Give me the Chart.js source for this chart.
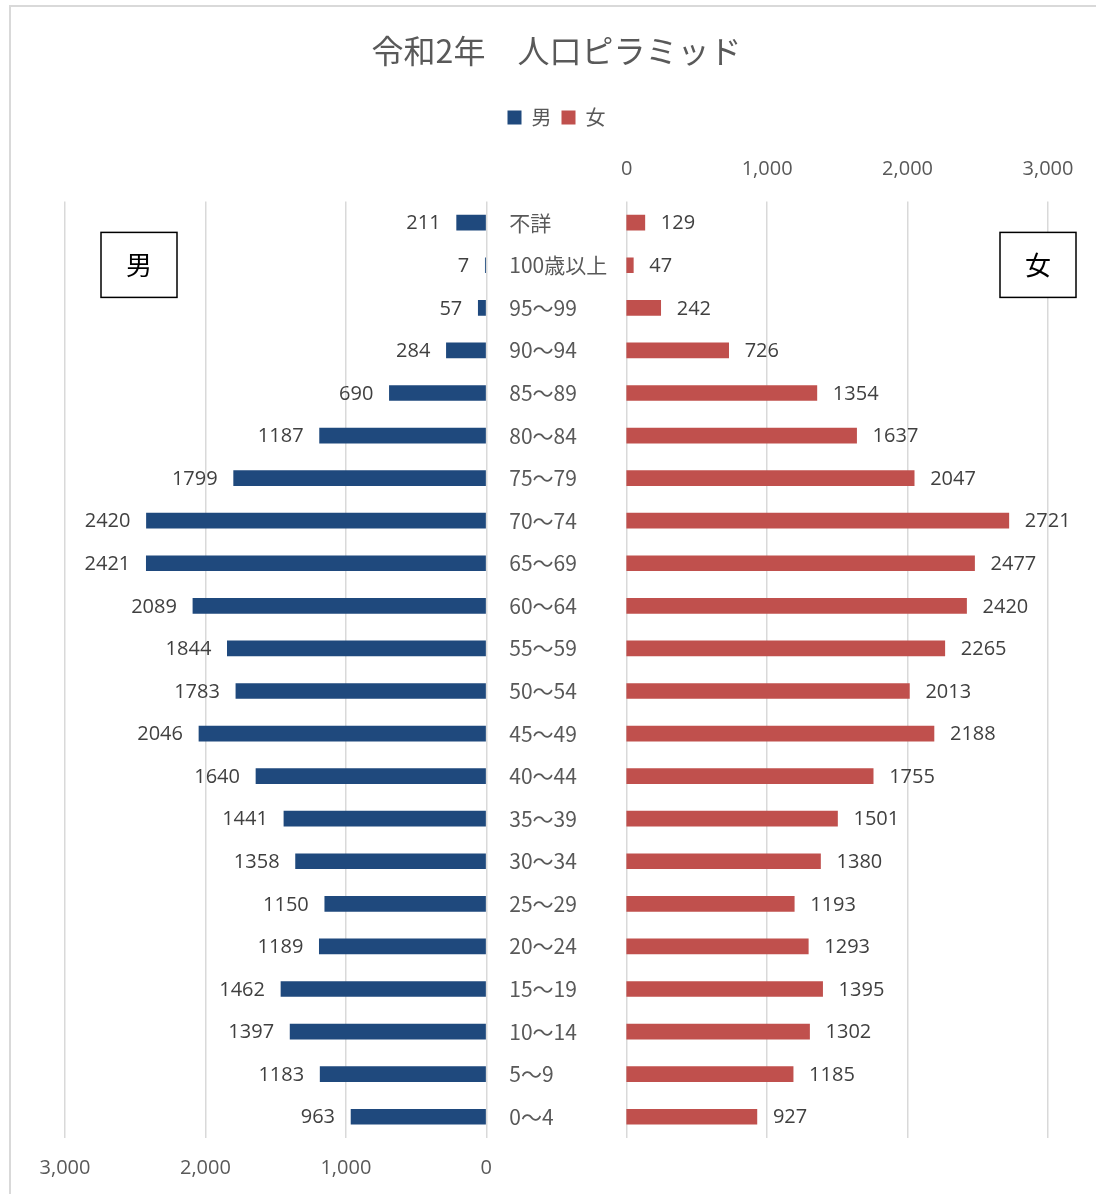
<!DOCTYPE html>
<html>
<head>
<meta charset="utf-8">
<script src="https://cdn.jsdelivr.net/npm/chart.js@4"></script>
<style>
  body { margin: 0; background: #fff; }
  #wrap { width: 1096px; height: 1194px; position: relative; }
</style>
</head>
<body>
<div id="wrap"><canvas id="chartCanvas"></canvas></div>
<script>
// 年齢区分（上から順）
const ageGroups = ["不詳", "100歳以上", "95～99", "90～94", "85～89", "80～84", "75～79", "70～74",
  "65～69", "60～64", "55～59", "50～54", "45～49", "40～44", "35～39", "30～34",
  "25～29", "20～24", "15～19", "10～14", "5～9", "0～4"];
const male = [211, 7, 57, 284, 690, 1187, 1799, 2420, 2421, 2089, 1844, 1783, 2046, 1640,
  1441, 1358, 1150, 1189, 1462, 1397, 1183, 963];
const female = [129, 47, 242, 726, 1354, 1637, 2047, 2721, 2477, 2420, 2265, 2013, 2188, 1755,
  1501, 1380, 1193, 1293, 1395, 1302, 1185, 927];
const axisTicks = [0, 1000, 2000, 3000];

const jpFont = '"Noto Sans CJK JP", "Noto Sans", sans-serif';
const numFont = '"Open Sans", "Noto Sans", sans-serif';

// 枠・中央ラベル・数値ラベル・男女の箱
const pyramidDecor = {
  id: "pyramidDecor",
  beforeDraw(chart) {
    const c = chart.ctx;
    c.save();
    c.strokeStyle = "#d9d9d9";
    c.lineWidth = 2;
    c.strokeRect(10, 6, 1200, 1300);
    c.restore();
  },
  afterDatasetsDraw(chart) {
    const c = chart.ctx;
    const area = chart.chartArea;
    const xMale = chart.scales.x;
    const yScale = chart.scales.y;
    c.save();
    // 年齢区分ラベル
    c.font = "21px " + jpFont;
    c.fillStyle = "#595959";
    c.textAlign = "left";
    c.textBaseline = "middle";
    const labelX = xMale.getPixelForValue(0) + 23;
    ageGroups.forEach((g, i) => {
      c.fillText(g, labelX, yScale.getPixelForValue(i));
    });
    // 数値ラベル
    c.font = "20px " + numFont;
    c.fillStyle = "#404040";
    chart.getDatasetMeta(0).data.forEach((bar, i) => {
      c.textAlign = "right";
      c.fillText(String(male[i]), bar.x - 16, bar.y + 1);
    });
    chart.getDatasetMeta(1).data.forEach((bar, i) => {
      c.textAlign = "left";
      c.fillText(String(female[i]), bar.x + 16, bar.y + 1);
    });
    // 男・女の箱
    const boxes = [
      { text: "男", left: area.left + 36 },
      { text: "女", left: area.right - 48 }
    ];
    c.strokeStyle = "#000";
    c.lineWidth = 1.5;
    c.font = "26px " + jpFont;
    c.textAlign = "center";
    boxes.forEach(b => {
      c.fillStyle = "#fff";
      c.fillRect(b.left, area.top + 31, 76, 65);
      c.strokeRect(b.left, area.top + 31, 76, 65);
      c.fillStyle = "#000";
      c.fillText(b.text, b.left + 38, area.top + 64);
    });
    c.restore();
  }
};

const ctx = document.getElementById("chartCanvas").getContext("2d");
const chart = new Chart(ctx, {
  type: "bar",
  data: {
    labels: ageGroups,
    datasets: [
      {
        label: "男",
        data: male,
        xAxisID: "x",
        backgroundColor: "#1F497D",
        barThickness: 15,
        grouped: false
      },
      {
        label: "女",
        data: female,
        xAxisID: "x2",
        backgroundColor: "#C0504D",
        barThickness: 15,
        grouped: false
      }
    ]
  },
  options: {
    indexAxis: "y",
    responsive: true,
    maintainAspectRatio: false,
    animation: false,
    layout: { padding: { left: 65, right: 48, top: 0, bottom: 14 } },
    scales: {
      y: {
        type: "category",
        display: false
      },
      x: {
        type: "linear",
        position: "bottom",
        reverse: true,
        min: -4000,
        max: 3000,
        afterBuildTicks(scale) {
          scale.ticks = [-4000, -3000, -2000, -1000].concat(axisTicks).map(v => ({ value: v }));
        },
        afterFit(scale) { scale.height = 42; },
        grid: { color: "#d9d9d9", lineWidth: 1.5, drawTicks: false },
        border: { display: false },
        ticks: {
          padding: 18,
          color: "#595959",
          font: { family: numFont, size: 20 },
          callback: v => (v >= 0 ? v.toLocaleString("en-US") : "")
        }
      },
      x2: {
        type: "linear",
        position: "top",
        min: -4000,
        max: 3000,
        afterBuildTicks(scale) {
          scale.ticks = axisTicks.map(v => ({ value: v }));
        },
        afterFit(scale) { scale.height = 64; },
        grid: { display: false, drawTicks: false },
        border: { display: false },
        ticks: {
          padding: 20,
          color: "#595959",
          font: { family: numFont, size: 20 },
          callback: v => (v >= 0 ? v.toLocaleString("en-US") : "")
        }
      }
    },
    plugins: {
      title: {
        display: true,
        text: "令和2年　人口ピラミッド",
        color: "#595959",
        font: { family: jpFont, size: 32, weight: "normal", lineHeight: 1.2 },
        padding: { top: 32, bottom: 27 }
      },
      legend: {
        position: "top",
        labels: {
          color: "#595959",
          font: { family: jpFont, size: 20 },
          boxWidth: 14,
          boxHeight: 14,
          padding: 10
        }
      },
      tooltip: { enabled: false }
    }
  },
  plugins: [pyramidDecor]
});
</script>
</body>
</html>
